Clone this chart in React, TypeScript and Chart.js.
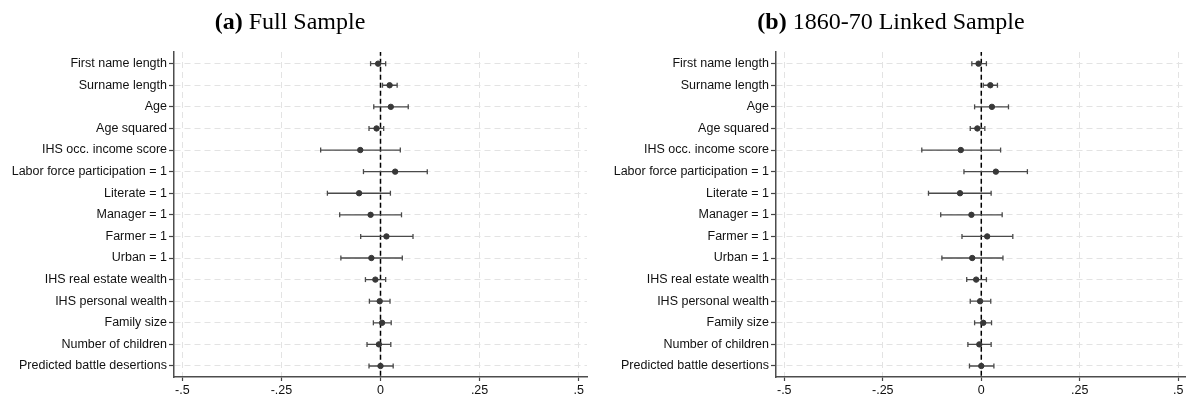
import React, { useEffect, useRef } from "react";
import { Chart, registerables } from "chart.js";

Chart.register(...registerables);

const variables = [
  "First name length",
  "Surname length",
  "Age",
  "Age squared",
  "IHS occ. income score",
  "Labor force participation = 1",
  "Literate = 1",
  "Manager = 1",
  "Farmer = 1",
  "Urban = 1",
  "IHS real estate wealth",
  "IHS personal wealth",
  "Family size",
  "Number of children",
  "Predicted battle desertions",
];

// (a) Full Sample
const fullEst = [-0.006, 0.023, 0.026, -0.010, -0.051, 0.037, -0.054, -0.025, 0.015, -0.023, -0.013, -0.002, 0.004, -0.004, 0.000];
const fullLo = [-0.025, 0.005, -0.017, -0.029, -0.151, -0.043, -0.134, -0.103, -0.050, -0.100, -0.038, -0.028, -0.018, -0.034, -0.029];
const fullHi = [0.013, 0.042, 0.070, 0.008, 0.050, 0.118, 0.025, 0.053, 0.082, 0.055, 0.013, 0.024, 0.027, 0.026, 0.032];

// (b) 1860-70 Linked Sample
const linkedEst = [-0.007, 0.023, 0.027, -0.010, -0.052, 0.037, -0.054, -0.025, 0.015, -0.023, -0.013, -0.003, 0.005, -0.005, 0.000];
const linkedLo = [-0.024, 0.005, -0.017, -0.028, -0.151, -0.044, -0.134, -0.103, -0.049, -0.100, -0.037, -0.028, -0.017, -0.034, -0.030];
const linkedHi = [0.013, 0.041, 0.069, 0.009, 0.049, 0.117, 0.025, 0.053, 0.080, 0.055, 0.013, 0.024, 0.026, 0.025, 0.032];

const xTicks = [-0.5, -0.25, 0, 0.25, 0.5];
const xTickLabels = ["-.5", "-.25", "0", ".25", ".5"];

const FONT = "'Liberation Sans', Arial, Helvetica, sans-serif";

type PanelProps = {
  est: number[];
  lo: number[];
  hi: number[];
  yWidth: number;
  padRight: number;
  xMin: number;
  xMax: number;
};

function Panel({ est, lo, hi, yWidth, padRight, xMin, xMax }: PanelProps) {
  const ref = useRef<HTMLCanvasElement | null>(null);
  useEffect(() => {
    if (!ref.current) return;
    const ciData: any[] = [];
    est.forEach((_, i) => {
      ciData.push({ x: lo[i], y: i });
      ciData.push({ x: hi[i], y: i });
      ciData.push({ x: null, y: null });
    });
    const pts = est.map((v, i) => ({ x: v, y: i }));
    const zero = [
      { x: 0, y: -0.6 },
      { x: 0, y: variables.length - 0.4 },
    ];
    const chart = new Chart(ref.current, {
      type: "scatter",
      data: {
        datasets: [
          {
            type: "line",
            data: zero,
            borderColor: "#000",
            borderWidth: 1.5,
            borderDash: [5, 3],
            pointRadius: 0,
            order: 3,
          } as any,
          {
            type: "line",
            data: ciData,
            borderColor: "#4a4a4a",
            borderWidth: 1.3,
            pointStyle: "line",
            pointRadius: 2.5,
            pointRotation: 90,
            pointBorderColor: "#4a4a4a",
            pointBorderWidth: 1.3,
            pointBackgroundColor: "#4a4a4a",
            spanGaps: false,
            order: 2,
          } as any,
          {
            type: "scatter",
            data: pts,
            backgroundColor: "#383838",
            borderColor: "#383838",
            pointRadius: 2.7,
            order: 1,
          } as any,
        ],
      },
      options: {
        animation: false,
        responsive: false,
        maintainAspectRatio: false,
        layout: { padding: { top: 52, right: padRight, left: 0, bottom: 0 } },
        plugins: {
          legend: { display: false },
          tooltip: { enabled: false },
          title: { display: false },
        },
        scales: {
          x: {
            type: "linear",
            min: xMin,
            max: xMax,
            afterBuildTicks: (s: any) => {
              s.ticks = xTicks.map((v) => ({ value: v }));
            },
            afterFit: (s: any) => {
              s.height = 23;
            },
            ticks: {
              autoSkip: false,
              maxRotation: 0,
              color: "#111",
              padding: 2,
              font: { family: FONT, size: 12.5 },
              callback: (_v: any, i: number) => xTickLabels[i],
            },
            grid: {
              color: "#e3e3e3",
              lineWidth: 1,
              tickColor: "#444",
              tickLength: 4,
              tickWidth: 1.2,
            },
            border: { display: true, color: "#4d4d4d", width: 1.5, dash: [6, 4] },
          },
          y: {
            type: "linear",
            reverse: true,
            min: -0.54,
            max: 14.51,
            afterBuildTicks: (s: any) => {
              s.ticks = variables.map((_, i) => ({ value: i }));
            },
            afterFit: (s: any) => {
              s.width = yWidth;
            },
            ticks: {
              autoSkip: false,
              color: "#111",
              padding: 2,
              font: { family: FONT, size: 12.5 },
              callback: (_v: any, i: number) => variables[i],
            },
            grid: {
              color: "#e3e3e3",
              lineWidth: 1,
              tickColor: "#444",
              tickLength: 5,
              tickWidth: 1.2,
            },
            border: { display: true, color: "#4d4d4d", width: 1.5, dash: [6, 4] },
          },
        },
      } as any,
    });
    return () => chart.destroy();
  }, [est, lo, hi, yWidth, padRight, xMin, xMax]);
  return <canvas ref={ref} width={596} height={400} style={{ display: "block", width: 596, height: 400 }} />;
}

const titleStyle: React.CSSProperties = {
  position: "absolute",
  top: 8,
  fontFamily: "'Liberation Serif', 'Times New Roman', serif",
  fontSize: 24,
  lineHeight: "normal",
  color: "#000",
  whiteSpace: "nowrap",
  textAlign: "center",
  width: 400,
};

export default function App() {
  return (
    <div style={{ position: "absolute", left: 0, top: 0, width: 1192, height: 400, background: "#fff", overflow: "hidden" }}>
      <div style={{ position: "absolute", left: 0, top: 0 }}>
        <Panel est={fullEst} lo={fullLo} hi={fullHi} yWidth={174} padRight={9} xMin={-0.521} xMax={0.521} />
      </div>
      <div style={{ position: "absolute", left: 596, top: 0 }}>
        <Panel est={linkedEst} lo={linkedLo} hi={linkedHi} yWidth={180} padRight={7} xMin={-0.521} xMax={0.517} />
      </div>
      <div style={{ ...titleStyle, left: 290 - 200 }}>
        <b>(a)</b> Full Sample
      </div>
      <div style={{ ...titleStyle, left: 891 - 200 }}>
        <b>(b)</b> 1860-70 Linked Sample
      </div>
    </div>
  );
}
